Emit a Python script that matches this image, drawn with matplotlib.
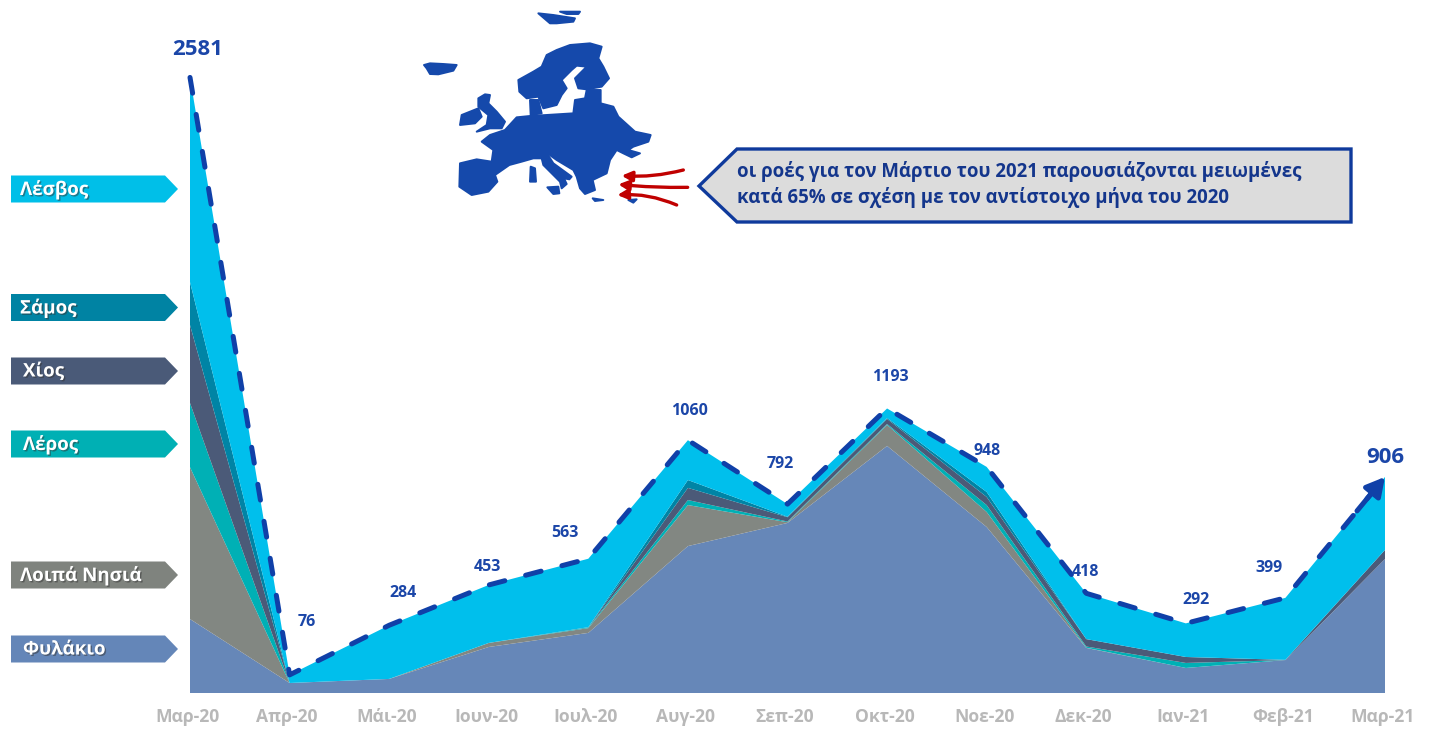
import numpy as np
import matplotlib
matplotlib.use('Agg')
import matplotlib.pyplot as plt
import matplotlib.patheffects as pe
from matplotlib.patches import Polygon
from matplotlib.transforms import ScaledTranslation

plt.rcParams['font.family'] = ['Open Sans', 'DejaVu Sans']

months = ['Μαρ-20', 'Απρ-20', 'Μάι-20', 'Ιουν-20', 'Ιουλ-20', 'Αυγ-20', 'Σεπ-20',
          'Οκτ-20', 'Νοε-20', 'Δεκ-20', 'Ιαν-21', 'Φεβ-21', 'Μαρ-21']
totals = [2581, 76, 284, 453, 563, 1060, 792, 1193, 948, 418, 292, 399, 906]

fylakio = [310, 42, 59, 193, 252, 616, 713, 1036, 696, 189, 105, 138, 562]
loipa = [637, 0, 0, 17, 20, 172, 3, 88, 63, 1, 0, 0, 0]
leros = [269, 0, 0, 0, 3, 21, 3, 4, 29, 5, 21, 0, 0]
chios = [327, 0, 0, 0, 1, 51, 18, 21, 34, 31, 25, 1, 38]
samos = [180, 0, 0, 0, 0, 33, 2, 4, 21, 0, 0, 0, 0]
lesvos = [858, 34, 225, 243, 287, 167, 53, 40, 105, 192, 141, 260, 306]

layer_colors = ['#6687b8', '#828782', '#00b0b5', '#4b5a78', '#0084a5', '#00bfec']

tags = ['Λέσβος', 'Σάμος', 'Χίος', 'Λέρος', 'Λοιπά Νησιά', 'Φυλάκιο']
tag_colors = ['#00bfe8', '#0083a3', '#4a5a78', '#00b0b4', '#7f837e', '#6486b8']
tag_y = [189, 307.5, 371, 444, 575, 649]
tag_text_x = [20, 20, 23, 23, 20, 23]

callout_lines = ['οι ροές για τον Μάρτιο του 2021 παρουσιάζονται μειωμένες',
                 'κατά 65% σε σχέση με τον αντίστοιχο μήνα του 2020']

# pixel offset of each value label from its point
label_dx = [8, 17, 14, -1, -23, 2, -7, 3, 0, -1, 10, -16, 0]
label_dy = [28, 53, 32, 18, 26, 29, 40, 31, 16, 21, 23, 30, 19]

# map outlines (pixels of a crop scaled 3x)
europe = [
    [(150, 490), (200, 478), (245, 485), (250, 450), (215, 425), (240, 405), (285, 390),
     (320, 352), (360, 348), (410, 345), (490, 340), (495, 300), (525, 295), (530, 270),
     (572, 270), (572, 310), (610, 320), (625, 350), (645, 368), (675, 395), (722, 405),
     (715, 425), (670, 440), (655, 450), (690, 460), (665, 472), (640, 460), (620, 450),
     (600, 480), (590, 520), (548, 540), (555, 570), (525, 582), (510, 565), (500, 530),
     (490, 510), (440, 480), (415, 462), (395, 475), (370, 475), (335, 485), (298, 495),
     (255, 525), (262, 545), (235, 575), (185, 585), (148, 560)],
    [(395, 475), (412, 462), (430, 490), (485, 530), (478, 538), (462, 535), (470, 552),
     (455, 565), (450, 545), (425, 520), (400, 495)],
    [(325, 240), (370, 215), (395, 200), (410, 165), (440, 150), (480, 135), (540, 130),
     (575, 140), (565, 175), (580, 200), (597, 235), (575, 260), (530, 268), (505, 265),
     (495, 235), (530, 200), (500, 197), (485, 210), (455, 240), (470, 265), (455, 285),
     (440, 315), (400, 325), (385, 290), (350, 295), (328, 275)],
    [(360, 300), (385, 300), (395, 340), (362, 345)],
    [(205, 295), (225, 283), (240, 285), (235, 310), (260, 335), (285, 365), (275, 385),
     (240, 385), (200, 395), (230, 375), (235, 345), (205, 320)],
    [(155, 345), (205, 325), (215, 350), (195, 370), (150, 375)],
    [(42, 195), (60, 190), (100, 192), (140, 195), (130, 212), (85, 223), (60, 222), (50, 205)],
    [(385, 40), (430, 45), (495, 55), (490, 65), (440, 70), (420, 70)],
    [(450, 35), (510, 35), (505, 42), (470, 42)],
    [(362, 500), (375, 505), (378, 545), (360, 545)],
    [(412, 562), (445, 560), (448, 580), (430, 582)],
    [(548, 595), (580, 600), (555, 603)],
    [(655, 600), (680, 598), (670, 608)],
]
red_arrows = [((820, 510), (635, 527), -0.08), ((833, 562), (625, 553), -0.03),
              ((800, 615), (622, 585), 0.12)]

W, H = 1433, 731
fig = plt.figure(figsize=(W / 100, H / 100), dpi=100, facecolor='white')
ax = fig.add_axes([190 / W, (H - 693) / H, 1195 / W, 693 / H])
x = np.arange(len(months))

ax.stackplot(x, fylakio, loipa, leros, chios, samos, lesvos, colors=layer_colors, linewidth=0)
ax.set_xlim(0, len(months) - 1)
ax.set_ylim(0, 693 / 0.2385)
ax.set_xticks(x)
ax.set_xticklabels(months, color='#b8b8b8', fontsize=12.6, fontweight='bold')
ax.tick_params(axis='x', length=0, pad=11)
shift = ScaledTranslation(-2.5 / 100, 0, fig.dpi_scale_trans)
for lab in ax.get_xticklabels():
    lab.set_transform(lab.get_transform() + shift)
ax.set_yticks([])
for s in ax.spines.values():
    s.set_visible(False)

line_color = '#1040a8'
ax.plot(x, totals, color=line_color, lw=3.6, linestyle=(0, (3.2, 4.3)),
        dash_capstyle='round', clip_on=False, zorder=5)
ax.annotate('', xy=(x[-1], totals[-1]), xytext=(-28, -34), textcoords='offset pixels',
            arrowprops=dict(arrowstyle='-|>,head_width=0.6,head_length=1.1', color=line_color,
                            lw=3.6, shrinkA=0, shrinkB=0), zorder=6)

for i, v in enumerate(totals):
    big = i in (0, len(totals) - 1)
    ax.annotate(str(v), xy=(x[i], v), xytext=(label_dx[i], label_dy[i]),
                textcoords='offset pixels', ha='center', va='center',
                color='#1b46a8', fontsize=16 if big else 11.5, fontweight='bold',
                annotation_clip=False, zorder=7)

# overlay in pixel coordinates for the tags, map and callout
over = fig.add_axes([0, 0, 1, 1], zorder=3)
over.set_xlim(0, W)
over.set_ylim(H, 0)
over.axis('off')
over.patch.set_alpha(0)

shadow = [pe.withSimplePatchShadow(offset=(1, -1), shadow_rgbFace='#333333', alpha=0.5)]
for name, c, yc, tx in zip(tags, tag_colors, tag_y, tag_text_x):
    over.add_patch(Polygon([(11, yc - 13.5), (165, yc - 13.5), (178, yc), (165, yc + 13.5),
                            (11, yc + 13.5)], closed=True, fc=c, ec='none'))
    over.text(tx, yc + 0.5, name, color='white', fontsize=13.5, fontweight='bold',
              va='center', ha='left', path_effects=shadow)

for part in europe:
    pts = [(410 + a / 3, b / 3) for a, b in part]
    over.add_patch(Polygon(pts, closed=True, fc='#1549ab', ec='#1549ab', lw=1.4, joinstyle='round'))

for start, end, rad in red_arrows:
    over.annotate('', xy=(410 + end[0] / 3, end[1] / 3), xytext=(410 + start[0] / 3, start[1] / 3),
                  arrowprops=dict(arrowstyle='-|>,head_width=0.3,head_length=0.6', color='#c00000',
                                  lw=2.4, shrinkA=0, shrinkB=0,
                                  connectionstyle=f'arc3,rad={rad}'))

over.add_patch(Polygon([(699, 186), (737, 149), (1351, 149), (1351, 222), (737, 222)],
                       closed=True, fc='#dcdcdc', ec='#0f3a9c', lw=2.4, joinstyle='miter'))
for line, yt in zip(callout_lines, [171, 198]):
    over.text(737, yt, line, color='#14368c', fontsize=13.4, fontweight='bold', va='center', ha='left')

fig.savefig('out.png', dpi=100)
